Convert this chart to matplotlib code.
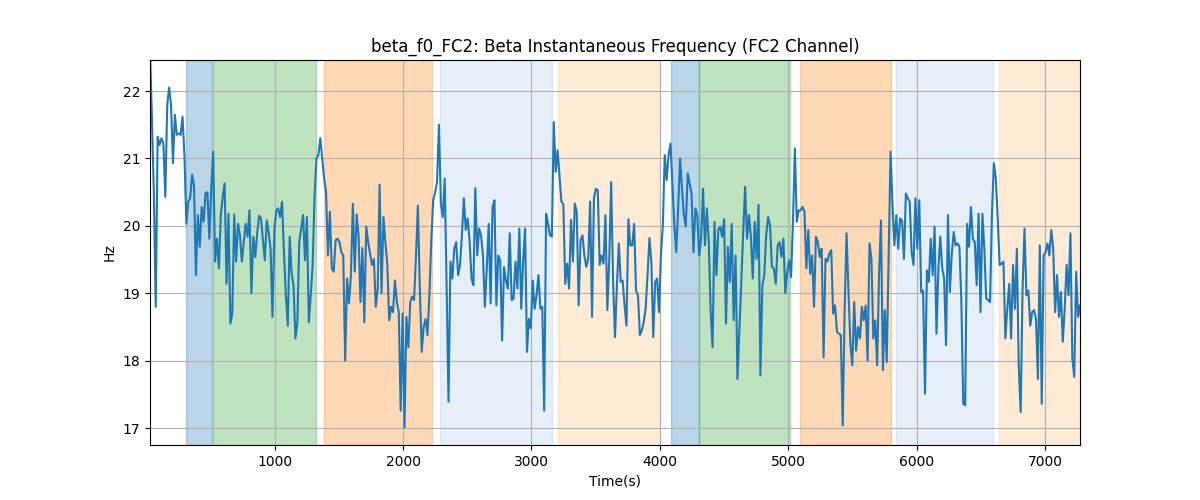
import numpy as np
import matplotlib
matplotlib.use('Agg')
import matplotlib.pyplot as plt

# ─── beta instantaneous frequency (Hz) ───
freq = [
    22.60, 21.60, 20.50, 18.80, 21.32, 21.20, 21.30, 21.22, 20.43, 21.79, 22.05,
    21.79, 20.93, 21.65, 21.35, 21.37, 21.35, 21.62, 21.05, 20.03, 20.36,
    20.41, 20.76, 20.60, 19.27, 20.16, 19.69, 20.28, 20.06, 20.48, 20.50,
    19.81, 20.55, 21.10, 19.47, 19.81, 19.37, 20.16, 20.43, 20.63, 19.14,
    20.18, 18.55, 18.70, 20.17, 19.47, 20.03, 19.86, 19.47, 19.76, 20.03,
    19.84, 20.23, 19.00, 19.84, 19.54, 19.89, 20.15, 20.11, 19.79, 19.49,
    20.08, 19.91, 19.66, 18.65, 19.94, 20.23, 20.26, 20.13, 20.36, 19.61,
    18.97, 18.52, 19.84, 19.29, 19.12, 18.33, 18.57, 19.76, 19.96, 20.16,
    19.49, 20.13, 18.57, 18.97, 19.42, 20.46, 21.00, 21.05, 21.30, 21.00,
    20.70, 20.50, 19.56, 20.21, 19.37, 19.32, 19.79, 19.81,
    # second stretch
    19.76, 19.61, 19.56, 18.00, 19.22, 18.85, 19.27, 20.33, 19.32, 20.17,
    19.86, 18.87, 19.67, 18.57, 19.99, 19.76, 19.59, 19.42, 19.51, 18.80,
    19.07, 20.61, 19.00, 20.13, 19.76, 19.44, 18.60, 18.80, 18.72, 19.19,
    18.87, 18.72, 17.26, 18.70, 17.01, 18.65, 18.20, 18.87, 18.95, 18.90,
    19.56, 20.30, 19.07, 18.13, 18.50, 18.62, 18.38, 18.97, 19.79, 20.38,
    20.50, 20.65, 21.50, 20.33, 20.13, 20.70, 19.12, 17.39, 19.47, 19.22,
    19.66, 19.76, 19.27, 19.42, 19.86, 20.41, 19.94, 20.11, 19.79, 19.22,
    19.12, 20.56, 19.56, 19.96, 19.86, 19.56, 18.80, 19.37, 20.03, 18.85,
    20.27, 20.38, 18.82, 19.56, 19.49, 18.30, 19.39, 19.19, 19.07, 19.89,
    18.90, 18.92, 19.47, 19.07, 19.96, 18.77, 19.47, 19.96, 18.13, 18.62,
    18.48,
    # third stretch
    19.19, 18.77, 18.97, 19.27, 18.77, 18.80, 17.26, 20.18, 20.03, 19.86,
    19.84, 21.54, 20.80, 21.12, 20.75, 20.36, 20.32, 19.14, 19.44, 19.07,
    20.09, 19.47, 20.33, 20.21, 18.82, 19.79, 19.86, 19.56, 19.39, 19.51,
    20.36, 18.65, 20.41, 20.55, 20.53, 19.42, 19.56, 19.44, 20.16, 18.75,
    19.51, 20.65, 19.17, 18.35, 19.12, 19.74, 19.17, 19.19, 18.82, 18.52,
    20.10, 19.71, 19.71, 20.03, 19.04, 18.97, 18.38, 18.45, 18.57, 18.77,
    19.27, 19.82, 19.47, 18.35, 19.17, 19.22, 18.72, 19.56, 20.01, 21.05,
    20.68, 21.05, 21.22, 20.60, 20.01, 19.61, 20.26, 21.00, 20.55, 20.16,
    19.99, 20.78, 20.63, 20.48, 19.61, 20.26, 20.16, 19.56, 19.81, 20.55,
    19.71, 20.26, 19.76, 18.72, 18.20, 20.06, 19.27, 19.94, 19.99,
    # fourth stretch
    19.84, 20.10, 18.55, 19.69, 19.17, 20.03, 18.60, 19.56, 17.73, 18.43,
    19.17, 19.91, 20.58, 19.81, 20.16, 19.84, 19.22, 20.06, 19.51, 20.31,
    17.78, 19.12, 19.27, 19.86, 20.13, 20.01, 19.39, 19.37, 19.14, 19.71,
    19.76, 19.54, 19.81, 19.00, 19.32, 19.49, 19.24, 20.06, 21.15, 20.06,
    20.23, 20.23, 20.28, 20.21, 19.37, 19.94, 19.29, 19.56, 18.80, 19.84,
    19.76, 19.54, 19.66, 18.05, 19.51, 19.47, 19.59, 19.64, 18.70, 18.82,
    18.43, 18.40, 18.38, 17.04, 18.75, 19.89, 19.04, 18.25, 17.93, 18.87,
    18.15, 18.50, 18.33, 18.80, 18.60, 18.82, 18.00, 19.74, 19.51, 18.33,
    18.60, 17.93, 19.29, 20.08, 17.86, 18.75, 17.98, 19.56, 21.10, 20.33,
    19.71, 20.16, 19.66, 20.11, 20.08, 19.51, 20.48, 20.41, 20.36,
    # last stretch
    19.61, 19.42, 20.41, 19.66, 20.38, 19.02, 19.04, 17.51, 19.34, 19.17,
    19.81, 19.27, 19.99, 18.40, 19.37, 19.84, 19.37, 19.22, 18.23, 20.16,
    19.02, 19.59, 19.91, 19.71, 19.74, 19.69, 18.87, 17.36, 17.34, 20.03,
    19.69, 20.28, 19.81, 19.76, 19.12, 20.18, 18.72, 20.18, 19.66, 18.92,
    18.90, 18.87, 20.21, 20.93, 20.70, 20.11, 19.42, 19.44, 19.47, 18.33,
    18.77, 19.14, 18.33, 19.42, 18.77, 19.66, 17.91, 17.24, 19.07, 19.96,
    18.97, 19.04, 18.52, 18.72, 18.75, 18.62, 17.73, 19.71, 17.36, 19.56,
    19.61, 19.74, 19.56, 19.94, 19.66, 18.72, 19.27, 18.65, 19.02, 18.28,
    18.77, 19.42, 18.97, 19.89, 18.03, 17.76, 19.32, 18.65, 18.82,
]

t_start, t_end = 28, 7273
time = np.linspace(t_start, t_end, len(freq))

# ─── task epochs (start, end, colour, alpha) ───
epoch_start = [311, 520, 1387, 2285, 3208, 4087, 4307, 5095, 5837, 6639]
epoch_end = [514, 1322, 2228, 3157, 4002, 4301, 5012, 5798, 6592, 7300]
epoch_color = ['tab:blue', 'tab:green', 'tab:orange', '#aec7e8', '#ffbb78',
               'tab:blue', 'tab:green', 'tab:orange', '#aec7e8', '#ffbb78']
epoch_alpha = 0.3

fig, ax = plt.subplots(figsize=(12, 5), dpi=100)

for s, e, c in zip(epoch_start, epoch_end, epoch_color):
    ax.axvspan(s, e, color=c, alpha=epoch_alpha)

ax.plot(time, freq, color='tab:blue', linewidth=1.5)

ax.set_xlim(t_start, t_end)
ax.set_ylim(16.75, 22.46)
ax.set_title('beta_f0_FC2: Beta Instantaneous Frequency (FC2 Channel)')
ax.set_xlabel('Time(s)')
ax.set_ylabel('Hz')
ax.grid(True)

fig.savefig('out.png')
